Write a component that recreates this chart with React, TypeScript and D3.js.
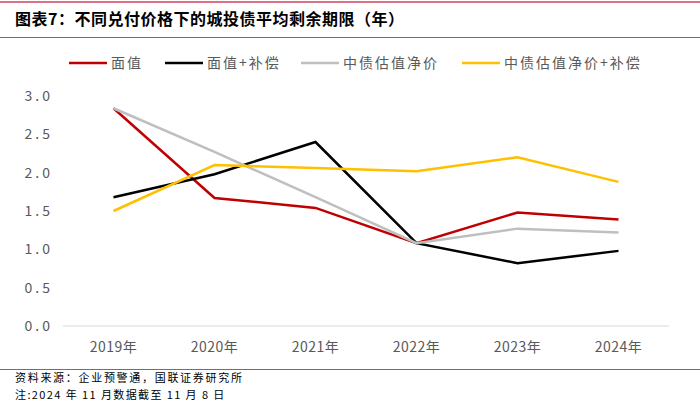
import React from "react";
import * as d3 from "d3";

const years = ["2019年", "2020年", "2021年", "2022年", "2023年", "2024年"];
const faceValue = [2.84, 1.67, 1.54, 1.08, 1.48, 1.39];
const facePlusComp = [1.68, 1.98, 2.4, 1.08, 0.82, 0.98];
const cbNet = [2.84, 2.27, 1.68, 1.08, 1.27, 1.22];
const cbNetPlusComp = [1.5, 2.1, 2.06, 2.02, 2.2, 1.88];
const yTicks = [0, 0.5, 1, 1.5, 2, 2.5, 3];
const seriesNames = ["面值", "面值+补偿", "中债估值净价", "中债估值净价+补偿"];
const seriesColors = ["#C00000", "#000000", "#BFBFBF", "#FFC000"];

const W = 700;
const H = 402;
const FONT = "'Noto Sans CJK SC', 'Noto Sans', sans-serif";

export default function App() {
  const series = [faceValue, facePlusComp, cbNet, cbNetPlusComp];
  const x = d3.scalePoint<string>().domain(years).range([63, 669]).padding(0.5);
  const y = d3.scaleLinear().domain([0, 3]).range([326, 96]);
  const line = d3
    .line<number>()
    .x((_, i) => x(years[i]) as number)
    .y((d) => y(d));

  const legendX = [69, 165, 301, 462];

  return (
    <svg
      width={W}
      height={H}
      style={{ position: "absolute", left: 0, top: 0, background: "#fff" }}
      fontFamily={FONT}
    >
      <rect width={W} height={H} fill="#fff" />
      <line x1={0} x2={W} y1={2} y2={2} stroke="#D0425E" strokeWidth={1.5} />
      <text x={15} y={25} fontSize={16} fontWeight="bold" fill="#000" letterSpacing={0.5}>
        图表7：不同兑付价格下的城投债平均剩余期限（年）
      </text>
      <line x1={0} x2={W} y1={37.5} y2={37.5} stroke="#D0425E" strokeWidth={1.2} />

      {seriesNames.map((n, i) => (
        <g key={n}>
          <line
            x1={legendX[i]}
            x2={legendX[i] + 38}
            y1={63}
            y2={63}
            stroke={seriesColors[i]}
            strokeWidth={2.5}
          />
          <text
            x={legendX[i] + 42}
            y={68}
            fontSize={14}
            fill="#595959"
            letterSpacing={2}
          >
            {n}
          </text>
        </g>
      ))}

      {yTicks.map((t) => (
        <text
          key={t}
          x={53}
          y={y(t) + 5}
          fontSize={14}
          fill="#595959"
          textAnchor="end"
          letterSpacing={3}
        >
          {t.toFixed(1)}
        </text>
      ))}

      <line x1={63} x2={669} y1={y(0)} y2={y(0)} stroke="#D9D9D9" strokeWidth={1.2} />

      {years.map((yr) => (
        <text
          key={yr}
          x={x(yr) as number}
          y={352}
          fontSize={14}
          fill="#595959"
          textAnchor="middle"
          letterSpacing={0.5}
        >
          {yr}
        </text>
      ))}

      {series.map((s, i) => (
        <path
          key={i}
          d={line(s) || ""}
          fill="none"
          stroke={seriesColors[i]}
          strokeWidth={2.5}
          strokeLinejoin="miter"
        />
      ))}

      <line x1={0} x2={W} y1={369.5} y2={369.5} stroke="#D0425E" strokeWidth={1.2} />
      <text x={15} y={382} fontSize={11} fill="#000" letterSpacing={1.7}>
        资料来源：企业预警通，国联证券研究所
      </text>
      <text x={15} y={398.5} fontSize={11} fill="#000" letterSpacing={1.4}>
        注:2024 年 11 月数据截至 11 月 8 日
      </text>
    </svg>
  );
}
